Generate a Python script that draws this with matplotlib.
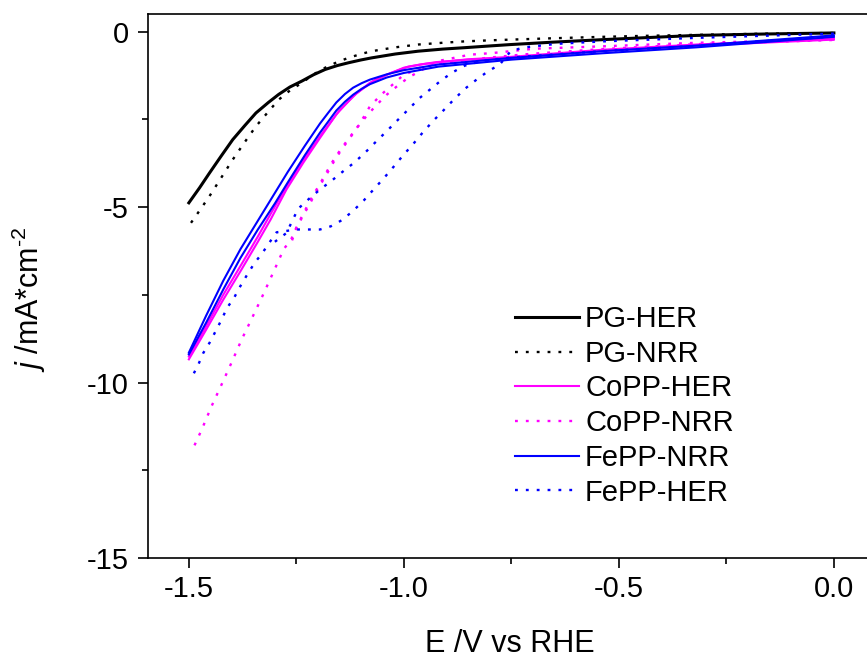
import matplotlib
matplotlib.use("Agg")
import matplotlib.pyplot as plt
from matplotlib.ticker import MultipleLocator

plt.rcParams['font.family'] = ['Liberation Sans', 'DejaVu Sans']
plt.rcParams['mathtext.fontset'] = 'custom'
plt.rcParams['mathtext.rm'] = 'Liberation Sans'
plt.rcParams['mathtext.it'] = 'Liberation Sans:italic'

# ---- data (E in V vs RHE, j in mA cm^-2) ----
pg_her_E = [-1.5, -1.475, -1.452, -1.425, -1.398, -1.37, -1.344, -1.315, -1.291, -1.265, -1.237, -1.21, -1.183, -1.155,
            -1.129, -1.1, -1.075, -1.02, -0.967, -0.91, -0.859, -0.8, -0.751, -0.65, -0.536, -0.43, -0.320, -0.16, 0.0]
pg_her_j = [-4.88, -4.45, -4.03, -3.55, -3.08, -2.68, -2.32, -2.02, -1.79, -1.58, -1.41, -1.23, -1.08, -0.97,
            -0.89, -0.81, -0.75, -0.64, -0.56, -0.50, -0.46, -0.41, -0.37, -0.30, -0.23, -0.17, -0.11, -0.07, -0.04]

pg_nrr_E = [-1.495, -1.475, -1.452, -1.425, -1.398, -1.37, -1.344, -1.315, -1.291, -1.265, -1.237, -1.21, -1.183, -1.155,
            -1.129, -1.1, -1.075, -1.02, -0.967, -0.91, -0.859, -0.8, -0.751, -0.65, -0.536, -0.43, -0.30, -0.16, 0.0]
pg_nrr_j = [-5.45, -5.1, -4.69, -4.17, -3.65, -3.15, -2.70, -2.28, -1.94, -1.68, -1.46, -1.22, -1.03, -0.87,
            -0.75, -0.64, -0.56, -0.45, -0.37, -0.32, -0.28, -0.25, -0.23, -0.19, -0.15, -0.12, -0.09, -0.06, -0.04]

copp_her_E1 = [-1.5, -1.46, -1.42, -1.38, -1.34, -1.31, -1.273, -1.234, -1.195, -1.157, -1.118, -1.079, -1.04, -1.0, -0.963, -0.924, -0.85, -0.75, -0.54, -0.32, 0.0]
copp_her_j1 = [-9.34, -8.5, -7.64, -6.83, -6.0, -5.36, -4.50, -3.74, -3.03, -2.36, -1.84, -1.46, -1.23, -1.03, -0.94, -0.87, -0.80, -0.75, -0.55, -0.40, -0.23]
copp_her_E2 = [-1.5, -1.46, -1.42, -1.38, -1.34, -1.31, -1.27, -1.23, -1.19, -1.15, -1.11, -1.07, -1.03, -0.99, -0.95, -0.9, -0.85, -0.75, -0.54, -0.32, 0.0]
copp_her_j2 = [-9.26, -8.4, -7.5, -6.68, -5.85, -5.2, -4.35, -3.6, -2.9, -2.25, -1.76, -1.40, -1.18, -1.0, -0.92, -0.85, -0.79, -0.72, -0.52, -0.37, -0.20]

copp_nrr_E1 = [0.0, -0.32, -0.536, -0.698, -0.792, -0.847, -0.924, -0.963, -0.988, -1.013, -1.039, -1.065, -1.087, -1.109, -1.129, -1.147, -1.166,
               -1.181, -1.195, -1.211, -1.225, -1.238, -1.251, -1.263, -1.279, -1.304, -1.329, -1.353, -1.377, -1.401, -1.424, -1.447, -1.47, -1.494]
copp_nrr_j1 = [-0.23, -0.32, -0.42, -0.49, -0.61, -0.66, -0.85, -1.13, -1.30, -1.53, -1.79, -2.11, -2.41, -2.74, -3.06, -3.36, -3.71,
               -4.03, -4.34, -4.66, -4.98, -5.29, -5.61, -5.95, -6.19, -6.87, -7.54, -8.16, -8.77, -9.44, -10.06, -10.67, -11.34, -11.98]
copp_nrr_E2 = [-1.26, -1.25, -1.236, -1.222, -1.207, -1.193, -1.178, -1.163, -1.145, -1.127, -1.109, -1.092, -1.079, -1.052, -1.026, -1.002, -0.96, -0.90, -0.80, -0.70, -0.54, -0.32, 0.0]
copp_nrr_j2 = [-5.95, -5.60, -5.28, -4.98, -4.64, -4.34, -4.03, -3.71, -3.36, -3.06, -2.74, -2.41, -2.13, -1.79, -1.51, -1.25, -1.02, -0.88, -0.74, -0.63, -0.50, -0.36, -0.24]

fepp_nrr_E1 = [-1.5, -1.46, -1.42, -1.38, -1.34, -1.30, -1.27, -1.23, -1.195, -1.175, -1.157, -1.137, -1.118, -1.098, -1.079, -1.04, -1.0, -0.92, -0.75, -0.54, -0.32, 0.0]
fepp_nrr_j1 = [-9.15, -8.1, -7.1, -6.2, -5.4, -4.6, -4.0, -3.25, -2.62, -2.30, -2.02, -1.78, -1.60, -1.47, -1.37, -1.22, -1.10, -0.94, -0.75, -0.56, -0.40, -0.11]
fepp_nrr_E2 = [-1.5, -1.46, -1.42, -1.38, -1.34, -1.30, -1.27, -1.23, -1.195, -1.175, -1.157, -1.137, -1.118, -1.098, -1.079, -1.04, -1.0, -0.92, -0.75, -0.54, -0.32, 0.0]
fepp_nrr_j2 = [-9.2, -8.3, -7.35, -6.45, -5.65, -4.9, -4.3, -3.52, -2.88, -2.55, -2.25, -2.0, -1.80, -1.63, -1.50, -1.31, -1.18, -1.0, -0.80, -0.62, -0.45, -0.15]

fepp_her_E1 = [0.0, -0.32, -0.536, -0.644, -0.719, -0.751, -0.777, -0.804, -0.831, -0.858, -0.884, -0.909, -0.933, -0.957, -0.978, -1.002,
               -1.023, -1.046, -1.069, -1.093, -1.119, -1.145, -1.170, -1.195, -1.223, -1.25, -1.273, -1.296, -1.312, -1.329, -1.347,
               -1.364, -1.381, -1.395, -1.411, -1.424, -1.437, -1.451, -1.467, -1.478, -1.491]
fepp_her_j1 = [-0.06, -0.18, -0.28, -0.35, -0.45, -0.55, -0.94, -1.13, -1.37, -1.63, -1.94, -2.26, -2.56, -2.89, -3.20, -3.53,
               -3.84, -4.17, -4.48, -4.81, -5.12, -5.38, -5.55, -5.64, -5.64, -5.64, -5.68, -5.72, -6.0, -6.31, -6.59,
               -6.92, -7.27, -7.59, -7.87, -8.21, -8.52, -8.85, -9.17, -9.49, -9.80]
fepp_her_E2 = [-1.30, -1.273, -1.246, -1.22, -1.195, -1.168, -1.143, -1.116, -1.091, -1.065, -1.040, -1.015, -0.988, -0.963, -0.936,
               -0.911, -0.885, -0.858, -0.82, -0.75, -0.54, -0.32, 0.0]
fepp_her_j2 = [-5.99, -5.74, -5.05, -4.76, -4.50, -4.25, -4.0, -3.74, -3.46, -3.14, -2.84, -2.53, -2.20, -1.89, -1.62,
               -1.37, -1.15, -0.97, -0.84, -0.74, -0.56, -0.41, -0.14]

x_ticks = [-1.5, -1.0, -0.5, 0.0]
x_ticklabels = ['-1.5', '-1.0', '-0.5', '0.0']
y_ticks = [0, -5, -10, -15]
y_ticklabels = ['0', '-5', '-10', '-15']

BLACK = '#000000'
MAG = '#FF00FF'
BLUE = '#0000FF'
dot = (0, (1.2, 3.4))

fig = plt.figure(figsize=(8.67, 6.58), dpi=100)
ax = fig.add_axes([148 / 867, 100 / 658, 724.6 / 867, 544 / 658])

lw = 1.5
ax.plot(pg_her_E, pg_her_j, color=BLACK, lw=2.2, label='PG-HER')
ax.plot(pg_nrr_E, pg_nrr_j, color=BLACK, lw=1.7, ls=dot, label='PG-NRR')
ax.plot(copp_her_E1, copp_her_j1, color=MAG, lw=lw, label='CoPP-HER')
ax.plot(copp_her_E2, copp_her_j2, color=MAG, lw=lw)
ax.plot(copp_nrr_E1, copp_nrr_j1, color=MAG, lw=1.7, ls=dot, label='CoPP-NRR')
ax.plot(copp_nrr_E2, copp_nrr_j2, color=MAG, lw=1.7, ls=dot)
ax.plot(fepp_nrr_E1, fepp_nrr_j1, color=BLUE, lw=lw, label='FePP-NRR')
ax.plot(fepp_nrr_E2, fepp_nrr_j2, color=BLUE, lw=lw)
ax.plot(fepp_her_E1, fepp_her_j1, color=BLUE, lw=1.7, ls=dot, label='FePP-HER')
ax.plot(fepp_her_E2, fepp_her_j2, color=BLUE, lw=1.7, ls=dot)

ax.set_xlim(-1.595, 0.09)
ax.set_ylim(-15, 0.5)
ax.set_xticks(x_ticks)
ax.set_xticklabels(x_ticklabels)
ax.set_yticks(y_ticks)
ax.set_yticklabels(y_ticklabels)
ax.xaxis.set_minor_locator(MultipleLocator(0.25))
ax.yaxis.set_minor_locator(MultipleLocator(2.5))
ax.tick_params(which='major', direction='out', length=7, width=1.2, labelsize=21)
ax.tick_params(axis='x', which='major', pad=5)
ax.tick_params(axis='y', which='major', pad=7)
ax.tick_params(which='minor', direction='out', length=4, width=1.2)
for s in ax.spines.values():
    s.set_linewidth(1.2)

ax.set_xlabel('E /V vs RHE', fontsize=22, labelpad=19)
ax.set_ylabel(r'$j$ /mA*cm$^{\text{-2}}$', fontsize=22)
ax.yaxis.set_label_coords(-0.138, 0.476)

ax.legend(loc='upper left', bbox_to_anchor=(0.5065, 0.465), frameon=False, fontsize=21,
          handlelength=2.2, handletextpad=0.2, labelspacing=0.23, borderpad=0, borderaxespad=0)

fig.savefig('out.png', dpi=100)
